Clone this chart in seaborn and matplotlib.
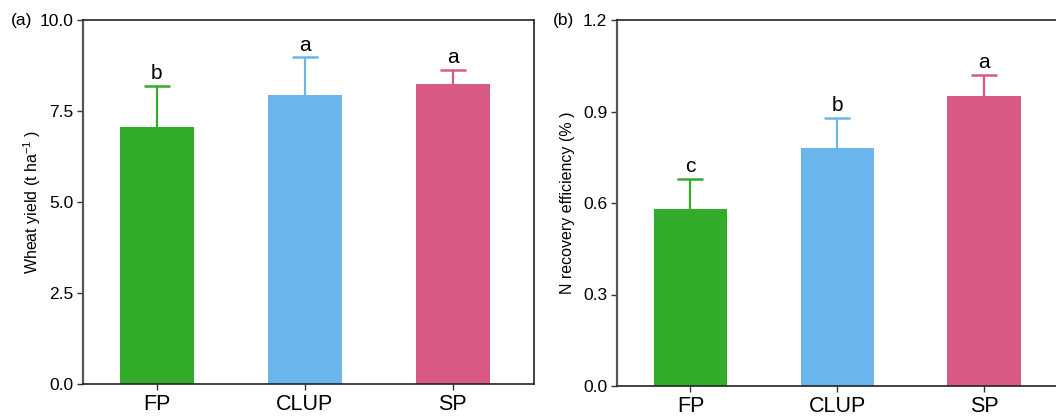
import matplotlib
matplotlib.use("Agg")
import matplotlib.pyplot as plt
import matplotlib.ticker as ticker
import seaborn as sns
import pandas as pd

# Data
treatments = ["FP", "CLUP", "SP"]
bar_colors = ["#33AC2C", "#6BB5ED", "#D85A83"]

yield_mean = [7.05, 7.94, 8.24]
yield_se = [1.14, 1.03, 0.38]
yield_letters = ["b", "a", "a"]

nre_mean = [0.58, 0.78, 0.95]
nre_se = [0.10, 0.10, 0.07]
nre_letters = ["c", "b", "a"]

sns.set_style("ticks")
plt.rcParams["font.family"] = ["Liberation Sans", "DejaVu Sans"]
plt.rcParams["mathtext.fontset"] = "custom"
plt.rcParams["mathtext.rm"] = "Liberation Sans"
plt.rcParams["mathtext.it"] = "Liberation Sans:italic"
plt.rcParams["text.color"] = "black"
plt.rcParams["axes.labelcolor"] = "black"
plt.rcParams["xtick.labelcolor"] = "black"
plt.rcParams["ytick.labelcolor"] = "black"

fig = plt.figure(figsize=(10.56, 4.16), dpi=100)
W, H = 1056, 416


def px_axes(left, top, right, bottom):
    return fig.add_axes([left / W, 1 - bottom / H, (right - left) / W, (bottom - top) / H])


def draw_panel(ax, mean, se, letters, ylim, yticks, ylabel, label_x):
    df = pd.DataFrame({"treatment": treatments, "value": mean})
    sns.barplot(data=df, x="treatment", y="value", hue="treatment",
                palette=bar_colors, width=0.5, legend=False, ax=ax,
                saturation=1, edgecolor="none", zorder=2)
    for i, (m, s, c, lab) in enumerate(zip(mean, se, bar_colors, letters)):
        _, caps, _ = ax.errorbar(i, m, yerr=[[0], [s]], color=c, capsize=9.5,
                                 elinewidth=1.6, capthick=1.8, zorder=1)
        caps[0].remove()  # only the upper cap is shown
        ax.annotate(lab, (i, m + s), xytext=(0, 2), textcoords="offset points",
                    ha="center", va="bottom", fontsize=15)
    ax.set_ylim(*ylim)
    ax.set_yticks(yticks)
    ax.yaxis.set_major_formatter(ticker.FormatStrFormatter("%.1f"))
    ax.set_xlim(-0.5, 2.55)
    ax.set_xlabel("")
    ax.set_ylabel(ylabel, fontsize=11.5)
    ax.yaxis.set_label_coords(label_x, 0.5)
    ax.tick_params(axis="y", labelsize=12.5, length=4, width=1, color="#333333", pad=3)
    ax.tick_params(axis="x", labelsize=15.5, length=4, width=1, color="#333333", pad=3)
    for sp in ax.spines.values():
        sp.set_linewidth(1.2)
        sp.set_color("#222222")
    ax.spines["left"].set_color("#555555")
    ax.spines["left"].set_linewidth(1.6)


ax1 = px_axes(83, 20, 534, 384)
draw_panel(ax1, yield_mean, yield_se, yield_letters, (0, 10), [0, 2.5, 5.0, 7.5, 10.0],
           "Wheat yield (t ha$^{-1}$ )", -0.089)

ax2 = px_axes(617, 20, 1065, 386)
draw_panel(ax2, nre_mean, nre_se, nre_letters, (0, 1.2), [0, 0.3, 0.6, 0.9, 1.2],
           "N recovery efficiency (% )", -0.094)

fig.text(11 / W, 1 - 20 / H, "(a)", fontsize=12.5, va="center", ha="left")
fig.text(553 / W, 1 - 20 / H, "(b)", fontsize=12.5, va="center", ha="left")

fig.savefig("out.png", dpi=100)
